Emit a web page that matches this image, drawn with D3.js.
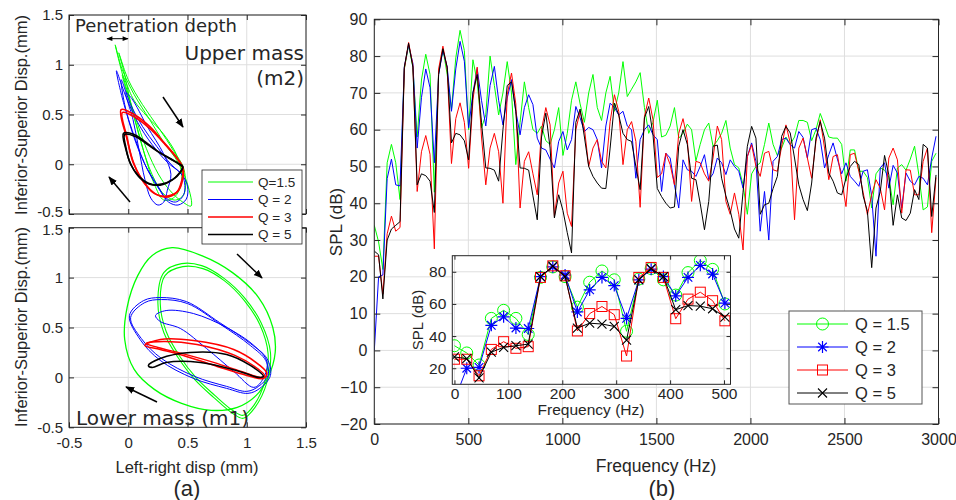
<!DOCTYPE html>
<html><head><meta charset="utf-8">
<script src="https://cdn.jsdelivr.net/npm/d3@7"></script>
<style>
body{margin:0;background:#fff}
svg{display:block}
text{font-family:"Liberation Sans",Arial,sans-serif;fill:#262626}
</style>
</head><body>
<svg id="c" width="956" height="500"></svg>
<script>
// ---------------- DATA ----------------
const seriesNames = ["Q = 1.5", "Q = 2", "Q = 3", "Q = 5"];
const leftLegendNames = ["Q=1.5", "Q = 2", "Q = 3", "Q = 5"];
const seriesColors = ["#00ff00", "#0000ff", "#ff0000", "#000000"];
const freqStepHz = 22.8;
const freqTicks = [0, 500, 1000, 1500, 2000, 2500, 3000];
const splTicks = [-20, -10, 0, 10, 20, 30, 40, 50, 60, 70, 80, 90];
const insetFreqTicks = [0, 100, 200, 300, 400, 500];
const insetSplTicks = [20, 40, 60, 80];
const dispTicks = [-0.5, 0, 0.5, 1, 1.5];

const splQ15 = [34,29.5,22,51,56,51,41,76.5,83,77,58,73.5,80.5,75,43,75.5,82,75,65.5,79.5,87,81.5,60,79,73,60.5,64,80,72,64,70,78.5,70,50.5,62,73,66,60,59,61,57,56,60,66,53,59,68,73,67,62,70,75,66,62.5,70,74.5,65,70,78.5,69,71,73,75.5,66,59,62,68,58,58.5,61,66,57.7,59,61.5,60,51.5,56,60,61.8,55.5,57,59,62.5,55,50.5,49.6,45,37,48,50,51,56,61.8,56,53,55,58,56,58,62.5,62.5,62,57,60,64.4,61.3,58,57.7,57.7,56,46,54.5,54.5,48.7,48.7,47,38.7,48,49.6,49,47,39.6,49.6,50.5,49,52,55.5,47.7,38.2,39,51.4,53.6];
const splQ2 = [0,20,20.5,46.7,52,45,44.7,77,83,78,55,68.7,76.5,71.4,51,75,81.6,77,65,76.5,84,78.6,60.5,70,76.6,68,61,72,77.2,68,61.3,68.6,73.6,65,58.6,66,69.5,66.8,57.7,55,54.5,52,49.6,56.8,59.5,54.5,57.3,66.3,63.2,59.5,60.6,60,57.3,49.6,61,67.2,66,64,65,61,60,46.8,57.3,60,61.3,58.6,57.3,43.2,53.6,52.3,45,38.7,51.8,49.1,48.7,47.3,50,53.2,46.4,48,52.3,51,47.8,51.8,50,48.7,44.1,52.7,56.4,51.4,32.4,43.2,30,51.4,52.7,57.3,57.7,55.9,55,59.5,57.9,52.3,60,60.4,57.3,49.6,53.2,56.4,52,48,51,47.3,46,44.6,48.7,49.1,42,25.6,49.6,51,44.1,50.3,48.2,38.7,48.2,46,45,47.3,46.8,45,52.3,58.2];
const splQ3 = [25.6,25.6,15.3,31.7,36.5,32.4,33.4,76.5,83.7,77.5,43.2,54,58.4,53.3,27.6,76.5,82.7,76.5,50.8,63,67.3,62,49.5,68,77,58,45,55,59,54,40,69.5,75.4,67,38.7,51.4,54,48,42.3,60,66,61.3,36.4,45.5,48.7,37.3,33.7,60,65,60.4,50,55,57.3,51.4,49.6,62.2,69.5,65,50.5,60,62.2,56.8,38.9,63.6,68.6,62.7,47,48,53.6,50.5,45,59,63,57.3,40.5,51.4,51,48,46,52.3,61,57.3,40.5,37,42.8,37,27.3,52.7,55.9,50,47.3,53.6,54.1,49.1,48.7,55.5,61.3,56.4,35.5,55,57.7,52.3,46.8,56.8,62.7,55,46.4,52.7,53.2,46.4,39.1,53.2,53.6,48.7,43,36.9,42.3,46.4,44.1,38.2,52.3,55,51.8,37.3,49.1,49,42.3,42.3,51.4,55,32,47];
const splQ5 = [27,26,14,30,33,34,35,77,83.5,77,45,48,47.5,46,37.5,75,82,77,56.4,59,58.6,57,51.8,70,75,62,49.6,49.5,49,46,60,72,73,65,49.6,49.5,49,42,35.5,58,64.5,55,36,42.3,38,32,26.5,62,65.6,58,50,47.3,45.5,44.1,44,55,67.2,64,59,57.3,56.8,50,43.7,63.2,66.3,58.6,44,41.8,40,38.7,39,55.5,60,56,46.8,46.4,40,32.8,40.5,55.5,55.8,46.8,42,38,33,30.5,43,55.5,60.9,57.7,37,39.6,40,44,47.3,58.2,60.9,59.1,52.3,45,41,38,45.5,57.7,62.2,57.7,48.2,46,42.8,42.3,46.8,50,51.4,50.5,42,37.8,22.5,38.7,43.2,53,47.7,34,42.3,36,35.3,37.3,43.7,41,56,55,36.4,47.7];

// Left panels: closed trajectories [left-right disp, inferior-superior disp] (mm)
const upperGreenA = [[-0.11,1.2],[-0.05,0.95],[0.05,0.7],[0.18,0.45],[0.3,0.22],[0.42,0.02],[0.5,-0.2],[0.53,-0.42],[0.46,-0.38],[0.38,-0.3],[0.28,-0.15],[0.18,0.08],[0.08,0.4],[0.0,0.7],[-0.07,1.0]];
const upperGreenB = [[-0.08,1.12],[0.0,0.85],[0.12,0.6],[0.26,0.36],[0.38,0.14],[0.47,-0.05],[0.47,-0.3],[0.4,-0.36],[0.3,-0.3],[0.2,-0.1],[0.1,0.25],[0.02,0.62],[-0.04,0.95]];
const upperGreenC = [[-0.05,0.9],[0.05,0.64],[0.16,0.48],[0.3,0.3],[0.42,0.06],[0.45,-0.18],[0.39,-0.33],[0.3,-0.36],[0.22,-0.2],[0.15,0.05],[0.08,0.35]];
const upperBlueA = [[-0.1,0.94],[-0.02,0.68],[0.08,0.42],[0.2,0.2],[0.33,0.02],[0.45,-0.1],[0.5,-0.22],[0.49,-0.35],[0.42,-0.41],[0.34,-0.38],[0.26,-0.25],[0.16,-0.05],[0.06,0.25],[-0.04,0.62]];
const upperBlueB = [[-0.02,0.72],[0.04,0.45],[0.09,0.15],[0.14,-0.15],[0.19,-0.34],[0.25,-0.41],[0.3,-0.38],[0.33,-0.26],[0.36,-0.1],[0.3,0.1],[0.16,0.38],[0.03,0.66]];
const upperBlueC = [[-0.06,0.85],[0.02,0.6],[0.12,0.38],[0.24,0.18],[0.36,0.0],[0.46,-0.12],[0.47,-0.3],[0.4,-0.38],[0.32,-0.34],[0.24,-0.2],[0.14,0.0],[0.04,0.3],[-0.03,0.6]];
const upperRedA = [[-0.06,0.55],[0.05,0.5],[0.18,0.38],[0.3,0.22],[0.4,0.08],[0.46,-0.03],[0.46,-0.15],[0.42,-0.27],[0.33,-0.32],[0.23,-0.3],[0.13,-0.18],[0.05,0.0],[-0.01,0.25]];
const upperRedB = [[-0.05,0.52],[0.06,0.47],[0.19,0.35],[0.31,0.2],[0.41,0.06],[0.46,-0.05],[0.45,-0.17],[0.41,-0.28],[0.32,-0.33],[0.22,-0.29],[0.12,-0.16],[0.04,0.02],[-0.01,0.27]];
const upperBlackA = [[-0.04,0.31],[0.05,0.3],[0.15,0.22],[0.25,0.13],[0.35,0.06],[0.42,0.01],[0.46,-0.02],[0.44,-0.08],[0.38,-0.15],[0.28,-0.2],[0.18,-0.2],[0.1,-0.14],[0.03,-0.02],[-0.02,0.15]];
const upperBlackB = [[-0.03,0.3],[0.06,0.28],[0.16,0.2],[0.26,0.12],[0.36,0.05],[0.43,0.0],[0.46,-0.03],[0.43,-0.09],[0.37,-0.16],[0.27,-0.21],[0.17,-0.19],[0.09,-0.12],[0.02,0.0],[-0.02,0.17]];

const lowerGreenA = [[0.37,1.3],[0.62,1.22],[0.88,1.05],[1.1,0.8],[1.22,0.5],[1.24,0.25],[1.18,0.0],[1.08,-0.18],[0.92,-0.3],[0.7,-0.33],[0.45,-0.26],[0.22,-0.12],[0.05,0.08],[-0.03,0.38],[-0.01,0.7],[0.08,1.02],[0.2,1.22]];
const lowerGreenB = [[0.3,1.05],[0.45,1.14],[0.62,1.12],[0.8,1.0],[0.98,0.8],[1.12,0.55],[1.2,0.25],[1.17,-0.05],[1.07,-0.3],[0.97,-0.41],[0.88,-0.36],[0.72,-0.2],[0.56,-0.02],[0.42,0.2],[0.3,0.45],[0.25,0.75]];
const lowerGreenC = [[0.31,1.02],[0.46,1.11],[0.63,1.09],[0.81,0.97],[0.98,0.77],[1.11,0.53],[1.18,0.24],[1.15,-0.05],[1.06,-0.28],[0.97,-0.38],[0.88,-0.33],[0.73,-0.18],[0.57,0.0],[0.43,0.22],[0.32,0.46],[0.27,0.74]];
const lowerBlueA = [[0.01,0.62],[0.13,0.77],[0.27,0.8],[0.49,0.76],[0.77,0.55],[1.03,0.34],[1.17,0.19],[1.2,0.02],[1.11,-0.11],[1.01,-0.16],[0.83,-0.11],[0.55,-0.01],[0.27,0.17],[0.1,0.38]];
const lowerBlueB = [[0.23,0.62],[0.32,0.67],[0.55,0.64],[0.83,0.5],[1.06,0.32],[1.17,0.16],[1.14,-0.01],[1.06,-0.1],[0.89,0.06],[0.66,0.29],[0.44,0.49],[0.27,0.56]];
const lowerBlueC = [[0.02,0.6],[0.14,0.75],[0.28,0.78],[0.5,0.74],[0.78,0.53],[1.03,0.32],[1.16,0.17],[1.18,0.02],[1.1,-0.09],[1.0,-0.14],[0.83,-0.09],[0.56,0.01],[0.28,0.19],[0.11,0.39]];
const lowerRedA = [[0.14,0.32],[0.27,0.38],[0.55,0.37],[0.89,0.28],[1.11,0.12],[1.17,0.04],[1.14,-0.01],[1.0,0.02],[0.75,0.11],[0.49,0.21],[0.27,0.28]];
const lowerRedB = [[0.15,0.34],[0.3,0.36],[0.58,0.33],[0.9,0.22],[1.1,0.08],[1.15,0.02],[1.12,0.0],[0.98,0.05],[0.72,0.15],[0.45,0.24],[0.25,0.3]];
const lowerBlackA = [[0.17,0.12],[0.27,0.19],[0.52,0.25],[0.83,0.23],[1.03,0.12],[1.14,0.01],[1.1,0.0],[0.94,0.06],[0.61,0.15],[0.32,0.15],[0.2,0.1]];

// ---------------- DRAW ----------------
const svg = d3.select("#c");
const AX = "#262626", GRID = "#dedede";
const splSeries = [splQ15, splQ2, splQ3, splQ5];
const intFmt = d3.format("d");

function frame(g, x, y, xt, yt) {
  const [x0, x1] = x.range(), y0 = y.range()[1], y1 = y.range()[0];
  g.append("g").selectAll("line").data(xt).join("line")
    .attr("x1", d => x(d)).attr("x2", d => x(d)).attr("y1", y0).attr("y2", y1)
    .attr("stroke", GRID).attr("stroke-width", 1);
  g.append("g").selectAll("line").data(yt).join("line")
    .attr("x1", x0).attr("x2", x1).attr("y1", d => y(d)).attr("y2", d => y(d))
    .attr("stroke", GRID).attr("stroke-width", 1);
}
function box(g, x, y, xt, yt, opts) {
  const [x0, x1] = x.range(), y0 = y.range()[1], y1 = y.range()[0];
  const tl = opts.tick || 5;
  const ax = g.append("g");
  const b = ax.append("g").attr("transform", `translate(0,${y1})`).call(d3.axisBottom(x).tickValues(xt).tickSize(-tl).tickPadding(opts.xpad || 9).tickFormat(opts.xfmt || intFmt));
  ax.append("g").attr("transform", `translate(0,${y0})`).call(d3.axisTop(x).tickValues(xt).tickSize(-tl).tickFormat(""));
  const l = ax.append("g").attr("transform", `translate(${x0},0)`).call(d3.axisLeft(y).tickValues(yt).tickSize(-tl).tickPadding(opts.ypad || 6).tickFormat(opts.yfmt || intFmt));
  ax.append("g").attr("transform", `translate(${x1},0)`).call(d3.axisRight(y).tickValues(yt).tickSize(-tl).tickFormat(""));
  ax.selectAll(".domain").remove();
  ax.selectAll(".tick line").attr("stroke", AX).attr("stroke-width", 1);
  ax.selectAll(".tick text").attr("fill", AX).style("font-size", (opts.fs || 15) + "px").style("font-family", '"Liberation Sans",Arial,sans-serif');
  if (opts.hideX) b.selectAll("text").remove();
  if (opts.nudge) l.selectAll(".tick text").attr("transform", d => opts.nudge(d));
  g.append("rect").attr("x", x0).attr("y", y0).attr("width", x1 - x0).attr("height", y1 - y0)
    .attr("fill", "none").attr("stroke", AX).attr("stroke-width", 1);
}

const defs = svg.append("defs");
defs.append("marker").attr("id", "ah").attr("viewBox", "0 0 10 10").attr("refX", 9).attr("refY", 5)
  .attr("markerWidth", 9).attr("markerHeight", 9).attr("markerUnits", "userSpaceOnUse").attr("orient", "auto")
  .append("path").attr("d", "M0,1 L10,5 L0,9 Z").attr("fill", "#000");
defs.append("marker").attr("id", "ahs").attr("viewBox", "0 0 10 10").attr("refX", 9).attr("refY", 5)
  .attr("markerWidth", 7).attr("markerHeight", 6).attr("markerUnits", "userSpaceOnUse").attr("orient", "auto-start-reverse")
  .append("path").attr("d", "M0,1 L10,5 L0,9 Z").attr("fill", "#000");

// ---------- LEFT PANELS ----------
const lx = d3.scaleLinear().domain([-0.5, 1.5]).range([69, 306]);
const lyTop = d3.scaleLinear().domain([-0.5, 1.5]).range([214, 15]);
const lyBot = d3.scaleLinear().domain([-0.5, 1.5]).range([427.3, 227.7]);
const fmtDisp = d => (d === 0 ? "0" : String(d));

function loops(g, ys, sets, clipId) {
  const line = d3.line().x(d => lx(d[0])).y(d => ys(d[1])).curve(d3.curveCatmullRomClosed.alpha(0.5));
  sets.forEach(([arr, ci, w]) => {
    g.append("path").attr("d", line(arr)).attr("fill", "none").attr("stroke", seriesColors[ci])
      .attr("stroke-width", w).attr("clip-path", `url(#${clipId})`);
  });
}
defs.append("clipPath").attr("id", "clipTop").append("rect").attr("x", 69).attr("y", 15).attr("width", 237).attr("height", 199);
defs.append("clipPath").attr("id", "clipBot").append("rect").attr("x", 69).attr("y", 227.7).attr("width", 237).attr("height", 199.6);

const gTop = svg.append("g");
frame(gTop, lx, lyTop, dispTicks, dispTicks);
loops(gTop, lyTop, [
  [upperGreenA, 0, 1], [upperGreenB, 0, 1], [upperGreenC, 0, 1],
  [upperBlueA, 1, 1], [upperBlueB, 1, 1], [upperBlueC, 1, 1],
  [upperRedA, 2, 1.6], [upperRedB, 2, 1.6],
  [upperBlackA, 3, 1.6], [upperBlackB, 3, 1.6]
], "clipTop");
box(gTop, lx, lyTop, dispTicks, dispTicks, {hideX: true, yfmt: fmtDisp, fs: 15, nudge: d => d === -0.5 ? "translate(0,-2)" : null});

const gBot = svg.append("g");
frame(gBot, lx, lyBot, dispTicks, dispTicks);
loops(gBot, lyBot, [
  [lowerGreenA, 0, 1.3], [lowerGreenB, 0, 1.1], [lowerGreenC, 0, 1.1],
  [lowerBlueA, 1, 1], [lowerBlueB, 1, 1], [lowerBlueC, 1, 1],
  [lowerRedA, 2, 1.6], [lowerRedB, 2, 1.4],
  [lowerBlackA, 3, 1.6]
], "clipBot");
box(gBot, lx, lyBot, dispTicks, dispTicks, {xfmt: fmtDisp, yfmt: fmtDisp, fs: 15, xpad: 10, nudge: d => d === 1.5 ? "translate(0,2)" : null});

svg.append("text").attr("x", 75).attr("y", 32).style("font-size", "18px").style("font-family", '"DejaVu Sans",sans-serif').text("Penetration depth");
svg.append("line").attr("x1", 107).attr("x2", 128).attr("y1", 38.7).attr("y2", 38.7).attr("stroke", "#000").attr("stroke-width", 1)
  .attr("marker-start", "url(#ahs)").attr("marker-end", "url(#ahs)");
svg.append("text").attr("x", 304).attr("y", 60).attr("text-anchor", "end").style("font-size", "20px").style("font-family", '"DejaVu Sans",sans-serif').text("Upper mass");
svg.append("text").attr("x", 304).attr("y", 85).attr("text-anchor", "end").style("font-size", "20px").style("font-family", '"DejaVu Sans",sans-serif').text("(m2)");
svg.append("text").attr("x", 76).attr("y", 425).style("font-size", "20px").style("font-family", '"DejaVu Sans",sans-serif').text("Lower mass (m1)");
[[163, 97, 183, 127], [130, 202, 109, 177], [237, 254, 262, 278], [157, 402, 126, 387]].forEach(a => {
  svg.append("line").attr("x1", a[0]).attr("y1", a[1]).attr("x2", a[2]).attr("y2", a[3])
    .attr("stroke", "#000").attr("stroke-width", 1.5).attr("marker-end", "url(#ah)");
});
svg.append("text").attr("transform", "translate(27,115) rotate(-90)").attr("text-anchor", "middle").style("font-size", "16.5px").text("Inferior-Superior Disp.(mm)");
svg.append("text").attr("transform", "translate(27,327) rotate(-90)").attr("text-anchor", "middle").style("font-size", "16.5px").text("Inferior-Superior Disp.(mm)");
svg.append("text").attr("x", 187).attr("y", 473).attr("text-anchor", "middle").style("font-size", "16.5px").text("Left-right disp (mm)");
svg.append("text").attr("x", 187).attr("y", 496).attr("text-anchor", "middle").style("font-size", "22px").text("(a)");

const lg = svg.append("g");
lg.append("rect").attr("x", 202).attr("y", 170).attr("width", 100).attr("height", 74).attr("fill", "#fff").attr("stroke", AX).attr("stroke-width", 0.8);
leftLegendNames.forEach((n, i) => {
  const yy = 182 + i * 17.5;
  lg.append("line").attr("x1", 208).attr("x2", 253).attr("y1", yy).attr("y2", yy).attr("stroke", seriesColors[i]).attr("stroke-width", i >= 2 ? 1.6 : 1);
  lg.append("text").attr("x", 258).attr("y", yy + 4.5).style("font-size", "13.5px").text(n);
});

// ---------- RIGHT PANEL ----------
const fx = d3.scaleLinear().domain([0, 3000]).range([374.3, 938.5]);
const fy = d3.scaleLinear().domain([-20, 90]).range([424, 19.3]);
defs.append("clipPath").attr("id", "clipMain").append("rect").attr("x", 374.3).attr("y", 19.3).attr("width", 564.2).attr("height", 404.7);
const gMain = svg.append("g");
frame(gMain, fx, fy, freqTicks, splTicks);
const mainLine = d3.line().x((d, i) => fx(i * freqStepHz)).y(d => fy(d));
splSeries.forEach((s, k) => {
  gMain.append("path").attr("d", mainLine(s)).attr("fill", "none").attr("stroke", seriesColors[k])
    .attr("stroke-width", 1).attr("clip-path", "url(#clipMain)");
});
box(gMain, fx, fy, freqTicks, splTicks, {fs: 16, xpad: 10, ypad: 7, tick: 6});
svg.append("text").attr("transform", "translate(342,222) rotate(-90)").attr("text-anchor", "middle").style("font-size", "17px").text("SPL (dB)");
svg.append("text").attr("x", 656).attr("y", 472).attr("text-anchor", "middle").style("font-size", "17.5px").text("Frequency (Hz)");
svg.append("text").attr("x", 662).attr("y", 496).attr("text-anchor", "middle").style("font-size", "22px").text("(b)");

function marker(g, k, cx, cy) {
  const c = seriesColors[k];
  if (k === 0) g.append("circle").attr("cx", cx).attr("cy", cy).attr("r", 6).attr("fill", "none").attr("stroke", c).attr("stroke-width", 1);
  else if (k === 1) {
    const s = 6, t = s * 0.71;
    g.append("path").attr("d", `M${cx - s},${cy}L${cx + s},${cy}M${cx},${cy - s}L${cx},${cy + s}M${cx - t},${cy - t}L${cx + t},${cy + t}M${cx - t},${cy + t}L${cx + t},${cy - t}`)
      .attr("stroke", c).attr("stroke-width", 1.2).attr("fill", "none");
  } else if (k === 2) g.append("rect").attr("x", cx - 5).attr("y", cy - 5).attr("width", 10).attr("height", 10).attr("fill", "none").attr("stroke", c).attr("stroke-width", 1);
  else {
    const s = 4.5;
    g.append("path").attr("d", `M${cx - s},${cy - s}L${cx + s},${cy + s}M${cx - s},${cy + s}L${cx + s},${cy - s}`).attr("stroke", c).attr("stroke-width", 1.1);
  }
}

// inset
const ix = d3.scaleLinear().domain([-4, 512]).range([452.3, 730.5]);
const iy = d3.scaleLinear().domain([10, 90]).range([384.3, 255.7]);
defs.append("clipPath").attr("id", "clipInset").append("rect").attr("x", 452.3).attr("y", 255.7).attr("width", 278.2).attr("height", 128.6);
const gIn = svg.append("g");
gIn.append("rect").attr("x", 452.3).attr("y", 255.7).attr("width", 278.2).attr("height", 128.6).attr("fill", "#fff");
frame(gIn, ix, iy, insetFreqTicks, insetSplTicks);
const gInData = gIn.append("g").attr("clip-path", "url(#clipInset)");
const inLine = d3.line().x((d, i) => ix(i * freqStepHz)).y(d => iy(d));
splSeries.forEach((s, k) => {
  const pts = s.filter((d, i) => i * freqStepHz <= 512);
  gInData.append("path").attr("d", inLine(pts)).attr("fill", "none").attr("stroke", seriesColors[k]).attr("stroke-width", 1);
  pts.forEach((d, i) => marker(gInData, k, ix(i * freqStepHz), iy(d)));
});
box(gIn, ix, iy, insetFreqTicks, insetSplTicks, {fs: 15.5, xpad: 4, ypad: 6, tick: 4});
svg.append("text").attr("transform", "translate(423,320) rotate(-90)").attr("text-anchor", "middle").style("font-size", "15px").text("SPL (dB)");
svg.append("text").attr("x", 591).attr("y", 415).attr("text-anchor", "middle").style("font-size", "15.5px").text("Frequency (Hz)");

const mg = svg.append("g");
mg.append("rect").attr("x", 789).attr("y", 311).attr("width", 133).attr("height", 93).attr("fill", "#fff").attr("stroke", "#555").attr("stroke-width", 1);
seriesNames.forEach((n, k) => {
  const yy = 324 + k * 23;
  mg.append("line").attr("x1", 797).attr("x2", 848).attr("y1", yy).attr("y2", yy).attr("stroke", seriesColors[k]).attr("stroke-width", 1);
  marker(mg, k, 822.5, yy);
  mg.append("text").attr("x", 855).attr("y", yy + 6).style("font-size", "16.5px").text(n);
});
</script>
</body></html>
